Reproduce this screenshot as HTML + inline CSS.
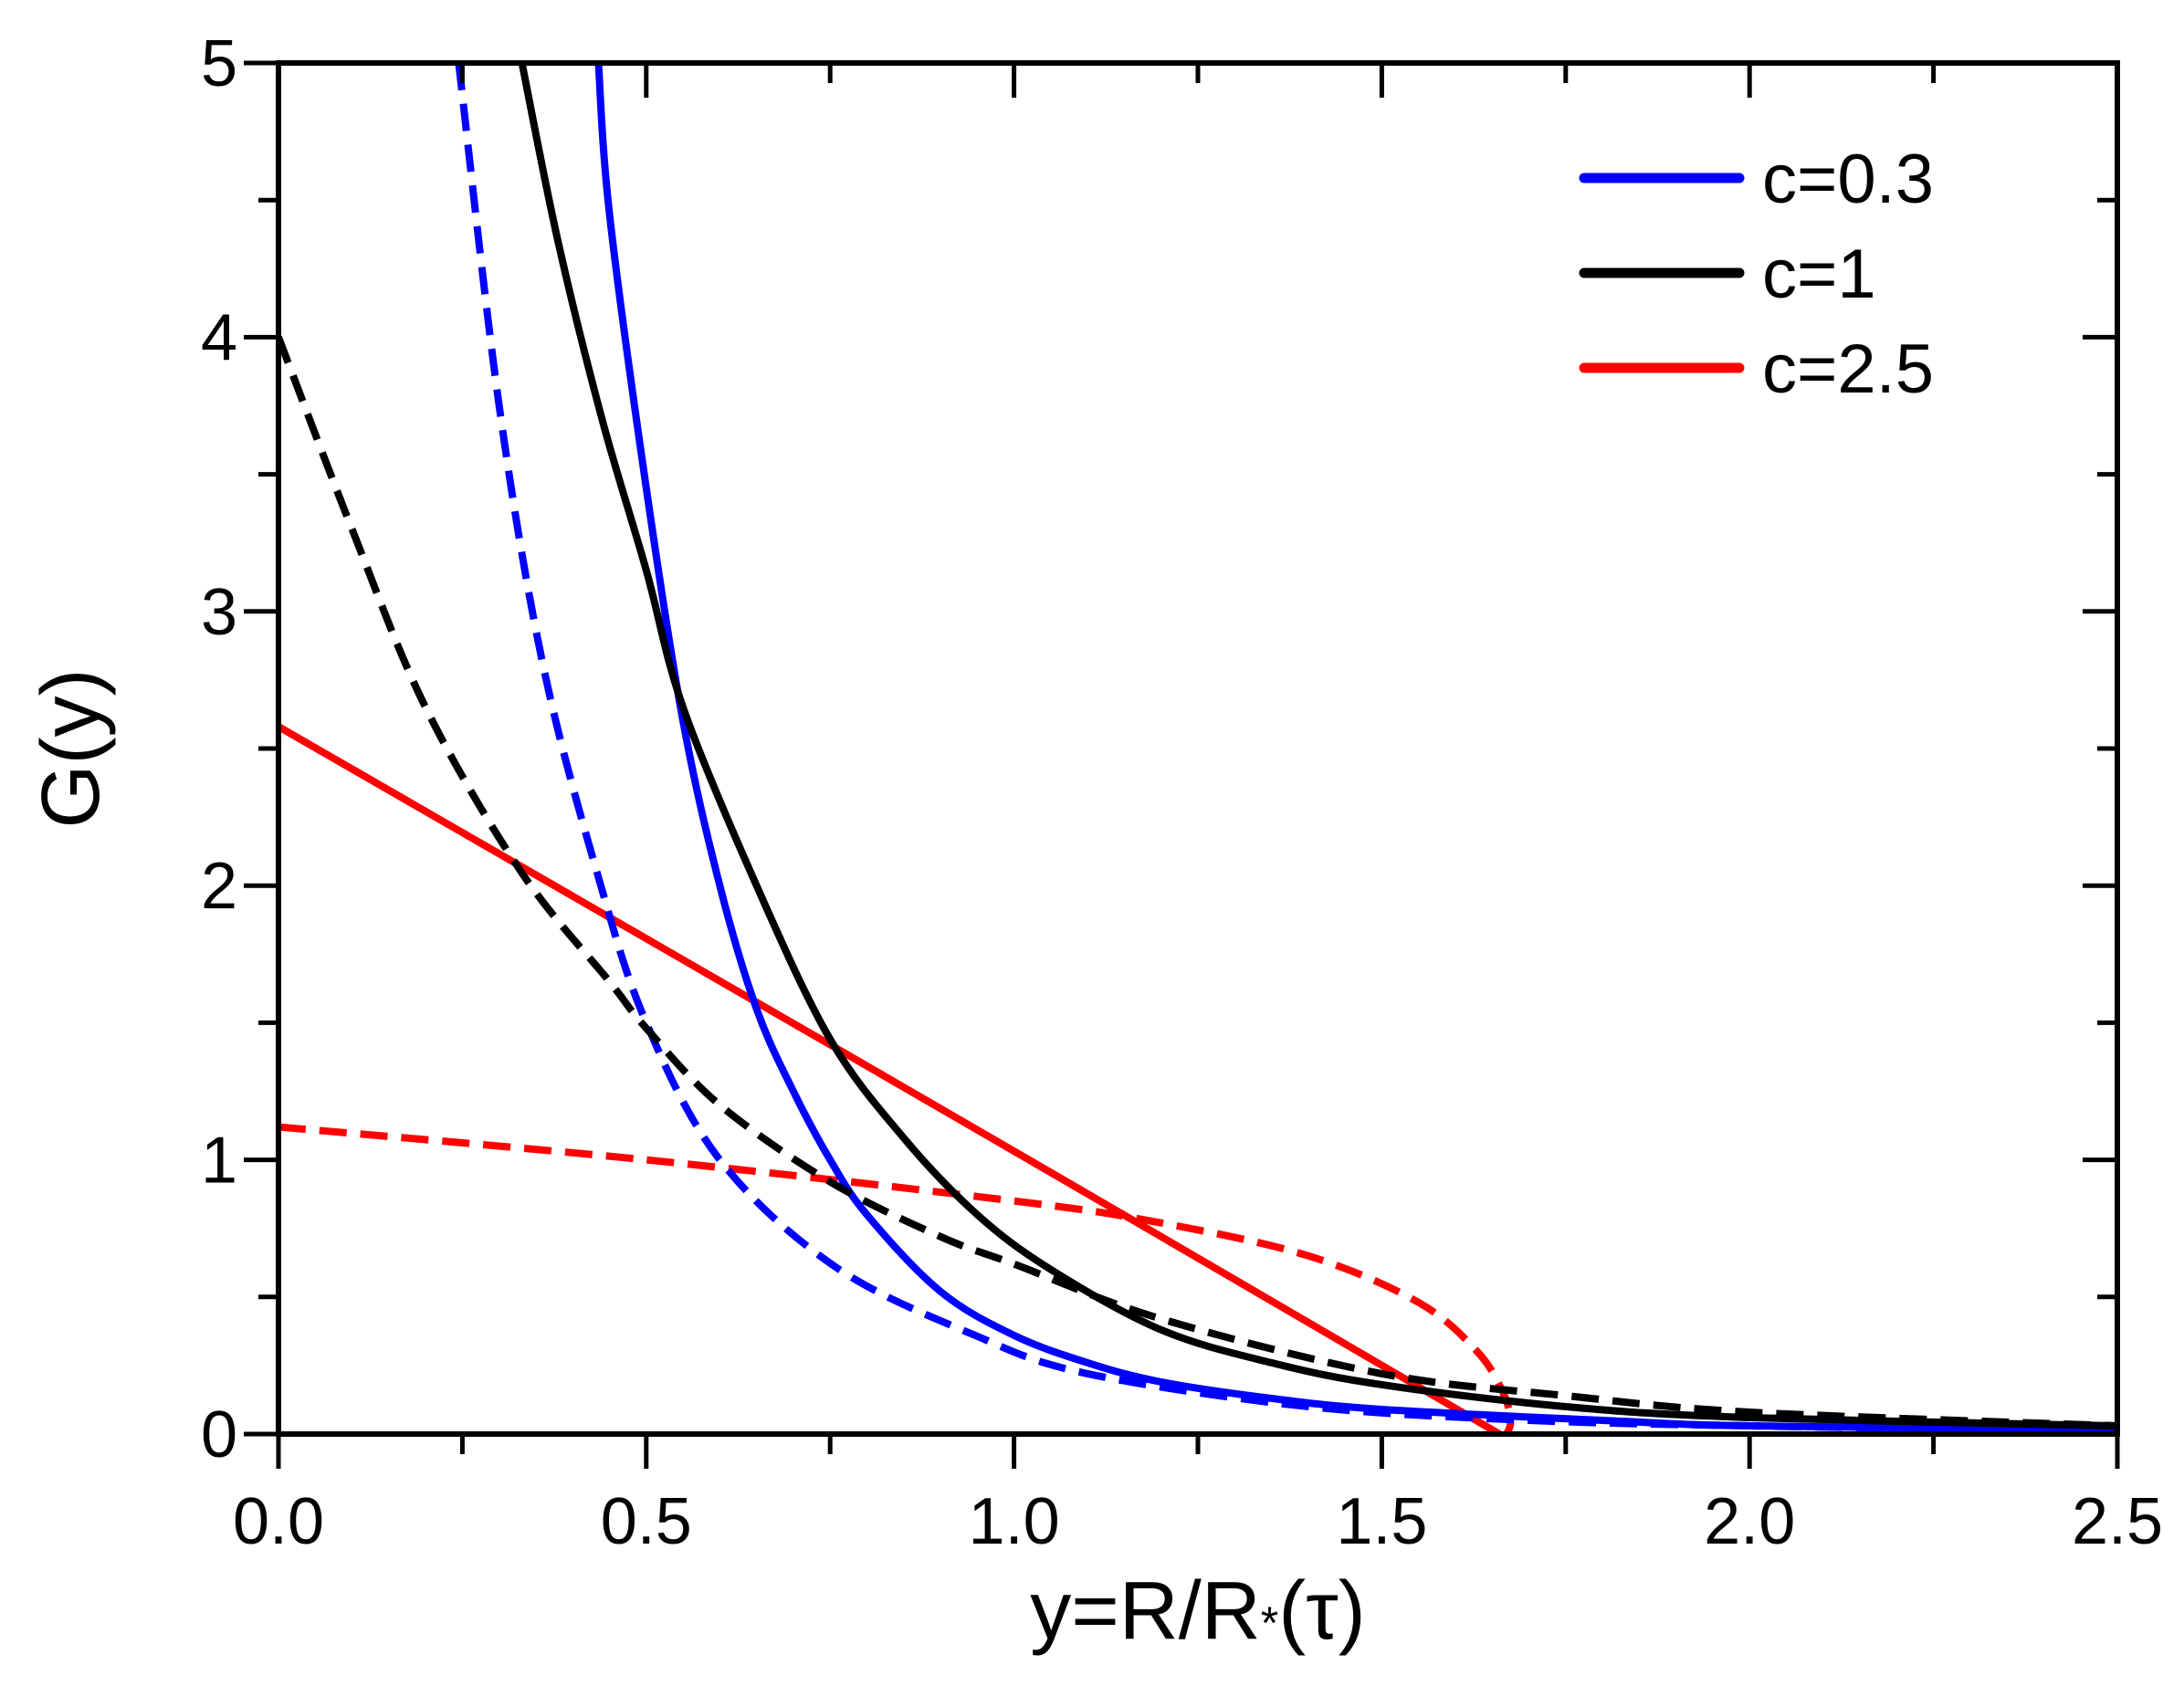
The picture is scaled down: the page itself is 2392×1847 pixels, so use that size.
<!DOCTYPE html>
<html><head><meta charset="utf-8"><style>
html,body{margin:0;padding:0;background:#fff;}
svg{display:block;font-family:"Liberation Sans",Arial,sans-serif;}
</style></head><body>
<svg id="chart" width="2392" height="1847" viewBox="0 0 2392 1847" xmlns="http://www.w3.org/2000/svg">
<defs><clipPath id="clip"><rect x="305" y="69" width="2014" height="1502"/></clipPath></defs>
<g id="series" clip-path="url(#clip)"></g>
<g id="axes"></g>
<text x="1312" y="1795" font-size="90" text-anchor="middle">y=R/R<tspan font-size="50" dy="0">*</tspan>(τ)</text>
<text transform="translate(108,820) rotate(-90)" font-size="90" text-anchor="middle">G(y)</text>
</svg>
<script>
const xTicks=[0,0.5,1.0,1.5,2.0,2.5];
const xTickLabels=["0.0","0.5","1.0","1.5","2.0","2.5"];
const yTicks=[0,1,2,3,4,5];
const yTickLabels=["0","1","2","3","4","5"];
const blueSolidX=[0.435,0.45,0.5,0.55,0.6,0.65,0.7,0.75,0.8,0.9,1.0,1.1,1.2,1.35,1.5,1.8,2.0,2.5];
const blueSolidY=[5.0,4.45,3.45,2.6,2.0,1.55,1.25,1.0,0.8,0.52,0.36,0.26,0.19,0.13,0.09,0.05,0.03,0.015];
const blueDashX=[0.245,0.3,0.36,0.435,0.5,0.6,0.757,0.947,1.1,1.4,1.7,2.0,2.5];
const blueDashY=[5.0,3.75,2.8,2.03,1.5,1.0,0.61,0.36,0.22,0.1,0.05,0.03,0.01];
const blackSolidX=[0.331,0.38,0.44,0.5,0.55,0.65,0.75,0.85,0.95,1.05,1.2,1.35,1.5,1.75,2.0,2.5];
const blackSolidY=[5.0,4.35,3.7,3.15,2.65,2.0,1.44,1.08,0.8,0.6,0.38,0.26,0.18,0.1,0.06,0.03];
const blackDashX=[0,0.1,0.2,0.33,0.45,0.5,0.6,0.75,0.9,1.0,1.2,1.5,1.75,2.0,2.5];
const blackDashY=[4.0,3.3,2.65,2.05,1.65,1.48,1.2,0.92,0.72,0.62,0.42,0.22,0.14,0.08,0.03];
const redSolidX=[0,0.75,1.2,1.66];
const redSolidY=[2.58,1.42,0.72,0.0];
const redDashX=[0,0.5,1.0,1.2,1.4,1.55,1.63,1.665,1.675,1.67];
const redDashY=[1.12,1.0,0.85,0.77,0.65,0.48,0.3,0.15,0.05,0.0];
const legendLabels=["c=0.3","c=1","c=2.5"];
const legendColors=["#0000ff","#000000","#ff0000"];

const L=305,R=2319,T=69,B=1571;
const sx=v=>L+(v-0)/(2.5-0)*(R-L);
const sy=v=>B-(v-0)/(5-0)*(B-T);
const NS="http://www.w3.org/2000/svg";
function mk(tag,attrs,parent){const e=document.createElementNS(NS,tag);for(const k in attrs)e.setAttribute(k,attrs[k]);parent.appendChild(e);return e;}
function pathD(xs,ys){
  const p=xs.map((x,i)=>[sx(x),sy(ys[i])]);
  let d="M"+p[0][0]+","+p[0][1];
  for(let i=0;i<p.length-1;i++){
    const p0=p[i-1]||p[i],p1=p[i],p2=p[i+1],p3=p[i+2]||p2;
    const c1=[p1[0]+(p2[0]-p0[0])/6,p1[1]+(p2[1]-p0[1])/6];
    const c2=[p2[0]-(p3[0]-p1[0])/6,p2[1]-(p3[1]-p1[1])/6];
    d+=" C"+c1[0]+","+c1[1]+" "+c2[0]+","+c2[1]+" "+p2[0]+","+p2[1];
  }
  return d;
}
const sg=document.getElementById("series");
function series(xs,ys,color,dash,name){
  const e=mk("path",{d:pathD(xs,ys),fill:"none",stroke:color,"stroke-width":8,"stroke-linejoin":"round"},sg);
  if(dash)e.setAttribute("stroke-dasharray","30 15");
  
  
}
series(redDashX,redDashY,"#ff0000",true,"series-c2.5-dashed");
series(redSolidX,redSolidY,"#ff0000",false,"series-c2.5-solid");
series(blueDashX,blueDashY,"#0000ff",true,"series-c0.3-dashed");
series(blueSolidX,blueSolidY,"#0000ff",false,"series-c0.3-solid");
series(blackSolidX,blackSolidY,"#000000",false,"series-c1-solid");
series(blackDashX,blackDashY,"#000000",true,"series-c1-dashed");

const ax=document.getElementById("axes");
const frame=mk("rect",{x:L,y:T,width:R-L,height:B-T,fill:"none",stroke:"#000","stroke-width":6},ax);


for(let v=0;v<=2.5001;v+=0.25){
  const major=Math.abs(v*2-Math.round(v*2))<1e-6;
  const len=major?38:22,x=sx(v);
  const t1=mk("line",{x1:x,y1:B,x2:x,y2:B+len,stroke:"#000","stroke-width":5},ax);
  
  
  const t2=mk("line",{x1:x,y1:T,x2:x,y2:T+len,stroke:"#000","stroke-width":5},ax);
  
  
}
for(let v=0;v<=5.0001;v+=0.5){
  const major=Math.abs(v-Math.round(v))<1e-6;
  const len=major?38:22,y=sy(v);
  const t1=mk("line",{x1:L-len,y1:y,x2:L,y2:y,stroke:"#000","stroke-width":5},ax);
  
  
  const t2=mk("line",{x1:R-len,y1:y,x2:R,y2:y,stroke:"#000","stroke-width":5},ax);
  
  
}
xTicks.forEach((v,i)=>{
  const t=mk("text",{x:sx(v),y:B+120,"font-size":72,"text-anchor":"middle"},ax);
  t.textContent=xTickLabels[i];
  
  
});
yTicks.forEach((v,i)=>{
  const t=mk("text",{x:L-45,y:sy(v)+25,"font-size":72,"text-anchor":"end"},ax);
  t.textContent=yTickLabels[i];
  
  
});
legendLabels.forEach((lab,i)=>{
  const y=195+i*104;
  const ln=mk("line",{x1:1735,y1:y,x2:1905,y2:y,stroke:legendColors[i],"stroke-width":11,"stroke-linecap":"round"},ax);
  
  
  const t=mk("text",{x:1930,y:y+27,"font-size":76},ax);
  t.textContent=lab;
  
  
});
</script>
</body></html>
